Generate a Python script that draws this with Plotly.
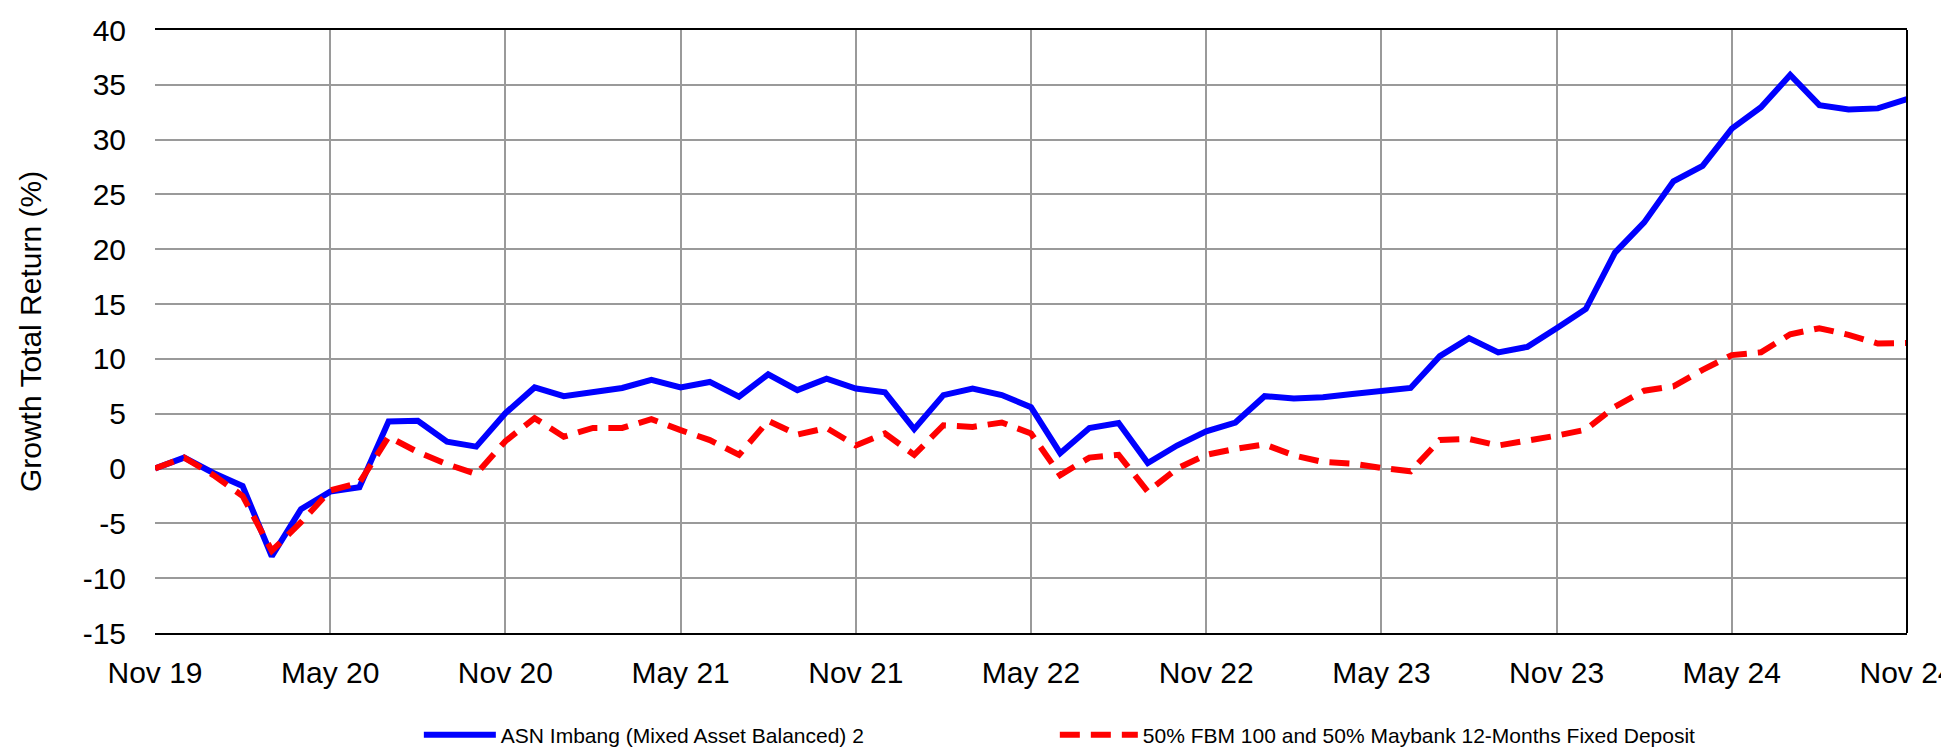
import pandas as pd
import plotly.graph_objects as go

months = [d.strftime("%b %y") for d in pd.date_range("2019-11-01", periods=61, freq="MS")]

asn_imbang = [
    0.0, 1.0, -0.4, -1.6, -8.0, -3.7, -2.1, -1.7, 4.3, 4.35, 2.45, 2.0,
    5.05, 7.4, 6.6, 7.0, 7.35, 8.1, 7.4, 7.9, 6.55, 8.6, 7.15, 8.2,
    7.3, 6.95, 3.6, 6.7, 7.3, 6.7, 5.6, 1.4, 3.7, 4.15, 0.5, 2.1,
    3.4, 4.2, 6.6, 6.4, 6.5, 6.8, 7.05, 7.35, 10.25, 11.9, 10.6, 11.1,
    12.8, 14.55, 19.7, 22.45, 26.2, 27.6, 31.0, 32.95, 35.9, 33.15, 32.75, 32.85,
    33.7,
]

benchmark = [
    0.0, 1.0, -0.6, -2.5, -7.5, -4.9, -2.0, -1.3, 2.9, 1.5, 0.4, -0.5,
    2.5, 4.6, 2.9, 3.7, 3.7, 4.5, 3.5, 2.6, 1.25, 4.35, 3.1, 3.7,
    2.1, 3.2, 1.25, 3.95, 3.8, 4.2, 3.2, -0.6, 1.0, 1.25, -2.1, 0.0,
    1.25, 1.8, 2.2, 1.2, 0.6, 0.45, 0.05, -0.25, 2.6, 2.7, 2.1, 2.5,
    3.0, 3.55, 5.65, 7.1, 7.5, 9.0, 10.35, 10.6, 12.25, 12.8, 12.2, 11.4,
    11.45,
]

series_names = [
    "ASN Imbang (Mixed Asset Balanced) 2",
    "50% FBM 100 and 50% Maybank 12-Months Fixed Deposit",
]

x_tick_vals = months[::6]
x_tick_text = ["Nov 19", "May 20", "Nov 20", "May 21", "Nov 21", "May 22",
               "Nov 22", "May 23", "Nov 23", "May 24", "Nov 24"]
y_tick_vals = [-15, -10, -5, 0, 5, 10, 15, 20, 25, 30, 35, 40]
y_tick_text = ["-15", "-10", "-5", "0", "5", "10", "15", "20", "25", "30", "35", "40"]

FONT = "Liberation Sans, Arial, sans-serif"

fig = go.Figure()
fig.add_trace(go.Scatter(
    x=months, y=asn_imbang, mode="lines", name=series_names[0],
    line=dict(color="#0000FF", width=6), legend="legend", showlegend=True,
))
fig.add_trace(go.Scatter(
    x=months, y=benchmark, mode="lines", name=series_names[1],
    line=dict(color="#FF0000", width=6, dash="20px,11px"), legend="legend2", showlegend=True,
))

# the page body has an 8px margin, so the figure is offset by 8px
fig.update_layout(
    width=1941, height=748,
    margin=dict(l=147, r=42, t=22, b=123),
    paper_bgcolor="white", plot_bgcolor="white",
    font=dict(family=FONT, color="black"),
    showlegend=True,
    legend=dict(
        x=0.1506, xref="paper", y=0.028, yref="container",
        xanchor="left", yanchor="middle",
        orientation="h", itemwidth=72, font=dict(size=21, family=FONT),
        bgcolor="rgba(0,0,0,0)",
    ),
    legend2=dict(
        x=0.5136, xref="paper", y=0.028, yref="container",
        xanchor="left", yanchor="middle",
        orientation="h", itemwidth=78, font=dict(size=21, family=FONT),
        bgcolor="rgba(0,0,0,0)",
    ),
    shapes=[dict(type="line", xref="paper", yref="paper", x0=1, x1=1, y0=0, y1=1,
                 line=dict(color="black", width=2))],
)

fig.update_xaxes(
    type="category",
    range=[0, len(months) - 1],
    tickvals=x_tick_vals, ticktext=x_tick_text,
    tickfont=dict(size=30, family=FONT, color="black"),
    ticks="", ticklabelstandoff=12,
    showgrid=True, gridcolor="#9a9a9a", gridwidth=2,
    showline=True, linecolor="black", linewidth=2, mirror=True,
    zeroline=False, automargin=False,
)
fig.update_yaxes(
    range=[-15, 40], tickvals=y_tick_vals, ticktext=y_tick_text,
    tickfont=dict(size=30, family=FONT, color="black"),
    ticks="", ticklabelstandoff=28,
    showgrid=True, gridcolor="#9a9a9a", gridwidth=2,
    showline=False, zeroline=False, automargin=False,
    title=dict(text="Growth Total Return (%)", font=dict(size=30, family=FONT, color="black"),
               standoff=32),
)

fig.write_html("out.html")
